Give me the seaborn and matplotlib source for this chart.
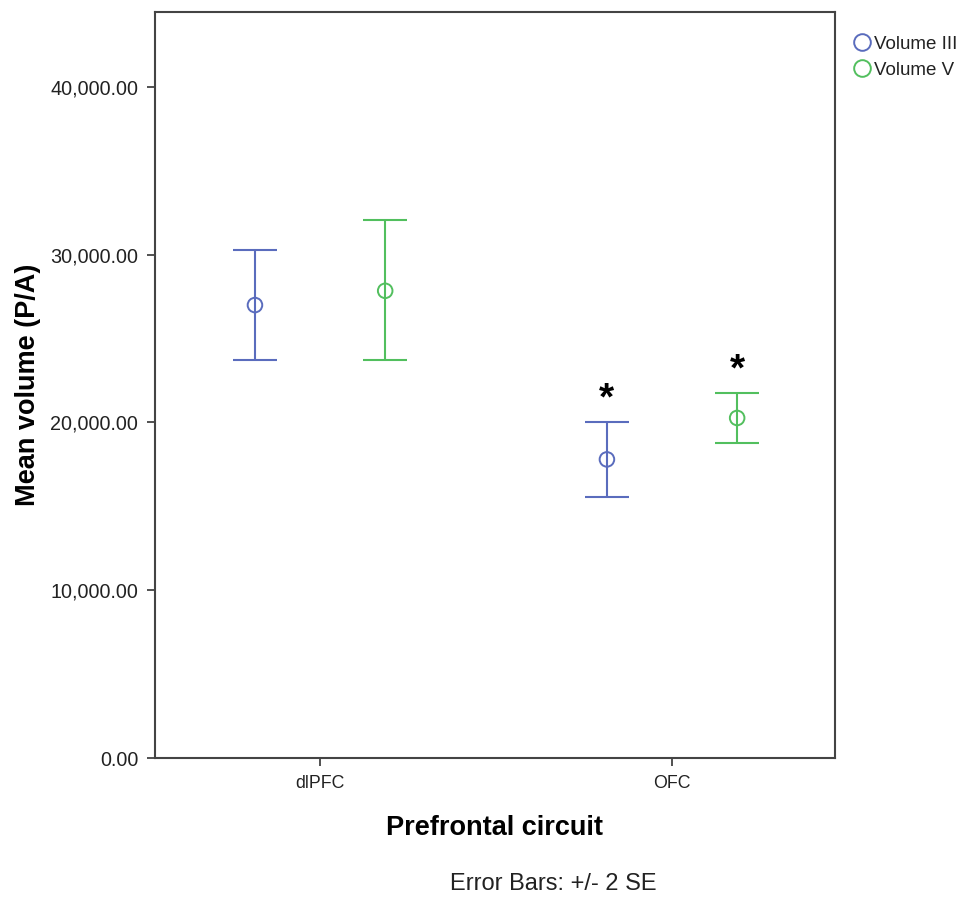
import numpy as np
import pandas as pd
import matplotlib
matplotlib.use("Agg")
import matplotlib.pyplot as plt
import seaborn as sns
from matplotlib.lines import Line2D
from matplotlib.collections import PathCollection

categories = ["dlPFC", "OFC"]
series = ["Volume III", "Volume V"]
mean_III = [27000, 17800]
low_III = [23720, 15560]
high_III = [30280, 20030]
mean_V = [27850, 20270]
low_V = [23720, 18780]
high_V = [32070, 21760]
star_flags_III = [False, True]
star_flags_V = [False, True]
colors = {"Volume III": "#5a6cbd", "Volume V": "#52bf5e"}
yticks = [0, 10000, 20000, 30000, 40000]

rows = []
for s, m, lo, hi, st in [("Volume III", mean_III, low_III, high_III, star_flags_III),
                         ("Volume V", mean_V, low_V, high_V, star_flags_V)]:
    for i, c in enumerate(categories):
        rows.append(dict(circuit=c, series=s, mean=m[i], low=lo[i], high=hi[i], star=st[i]))
df = pd.DataFrame(rows)

sns.set_theme(style="white")
plt.rcParams["font.family"] = ["Liberation Sans", "DejaVu Sans"]
plt.rcParams["text.color"] = "#111111"

fig = plt.figure(figsize=(9.67, 8.98), dpi=100)
ax = fig.add_axes([155/967, 140/898, 680/967, 746/898])

offset = {"Volume III": -0.185, "Volume V": 0.185}
df["x"] = df["circuit"].map({c: i for i, c in enumerate(categories)}) + df["series"].map(offset)

sns.scatterplot(data=df, x="x", y="mean", hue="series", palette=colors, ax=ax,
                marker="o", s=110, legend=False, zorder=3)
for coll in ax.collections:
    if isinstance(coll, PathCollection):
        fc = coll.get_facecolors()
        coll.set_edgecolors(fc)
        coll.set_facecolors("none")
        coll.set_linewidths(1.4)

for s in series:
    d = df[df.series == s]
    ax.errorbar(d["x"], d["mean"], yerr=[d["mean"] - d["low"], d["high"] - d["mean"]],
                fmt="none", ecolor=colors[s], elinewidth=1.5, capsize=16, capthick=1.5, zorder=2)

for _, r in df[df.star].iterrows():
    ax.text(r["x"], r["high"] + 1350, "*", ha="center", va="center", fontsize=28,
            fontweight="bold", color="black")

ax.set_xlim(-0.469, 1.463)
ax.set_ylim(0, 44470)
ax.set_xticks(range(len(categories)))
ax.set_xticklabels(categories, fontsize=12.8, color="#222222")
ax.set_yticks(yticks)
ax.set_yticklabels([f"{v:,.2f}" for v in yticks], fontsize=14.2, color="#222222")
ax.tick_params(axis="both", direction="out", length=6, width=1.2, color="#333333", bottom=True, left=True)
ax.tick_params(axis="x", pad=6)
ax.tick_params(axis="y", pad=6)
for sp in ax.spines.values():
    sp.set_color("#444444")
    sp.set_linewidth(1.5)

ax.set_xlabel("Prefrontal circuit", fontsize=19.5, fontweight="bold", labelpad=17, color="black")
ax.set_ylabel("Mean volume (P/A)", fontsize=19.5, fontweight="bold", labelpad=7, color="black")

handles = [Line2D([], [], marker="o", linestyle="none", markerfacecolor="none",
                  markeredgecolor=colors[s], markersize=12, markeredgewidth=1.4, label=s) for s in series]
leg = ax.legend(handles=handles, loc="upper left", bbox_to_anchor=(1.005, 0.983), frameon=False,
                fontsize=13.5, handletextpad=0.0, borderaxespad=0.2, labelspacing=0.45, handlelength=1.3)
for t in leg.get_texts():
    t.set_color("#222222")

fig.text(553/967, 1 - 884/898, "Error Bars: +/- 2 SE", ha="center", va="center", fontsize=17, color="#222222")

fig.savefig("out.png", dpi=100)
